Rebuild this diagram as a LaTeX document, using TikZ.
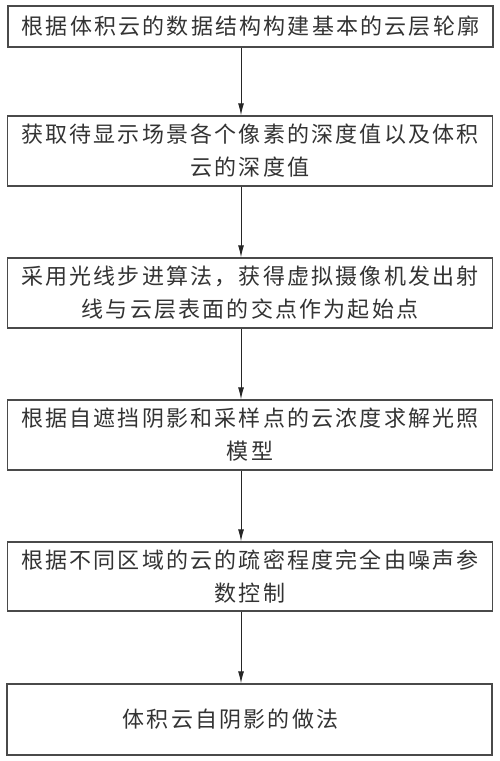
\documentclass[tikz,border=0pt]{standalone}
\usepackage{fontspec}
\usetikzlibrary{arrows.meta}
\setmainfont{Noto Sans CJK SC}[LetterSpace=10]
\definecolor{frame}{HTML}{4A4A4A}
\definecolor{ink}{HTML}{333333}
\tikzstyle{stepbox}=[rectangle,
                     minimum width=485pt,
                     minimum height=70pt,
                     inner sep=0pt,
                     draw=frame,
                     line width=1.3pt,
                     text=ink,
                     align=center,
                     font=\fontsize{22pt}{33pt}\selectfont ]
\tikzstyle{flow}=[-{Latex[length=12pt, width=6pt]}, line width=1pt, black!85]

\begin{document}
\begin{tikzpicture}[x=1pt, y=1pt]
  \useasboundingbox (0, 0) rectangle (500, -761);

  \node at (250.5, -26.5) (S1) [stepbox, minimum height=41pt] {根据体积云的数据结构构建基本的云层轮廓};
  \node at (250, -151) (S2) [stepbox] {获取待显示场景各个像素的深度值以及体积\\云的深度值};
  \node at (250, -293) (S3) [stepbox] {采用光线步进算法，获得虚拟摄像机发出射\\线与云层表面的交点作为起始点};
  \node at (250, -435) (S4) [stepbox] {根据自遮挡阴影和采样点的云浓度求解光照\\模型};
  \node at (250, -576.5) (S5) [stepbox, minimum height=69pt] {根据不同区域的云的疏密程度完全由噪声参\\数控制};
  \node at (249.5, -719.5) (S6) [stepbox, minimum height=71pt] {体积云自阴影的做法\hspace{38pt}};

  \coordinate (X) at (241, 0);
  \draw[flow] (S1.south -| X) -- (S2.north -| X);
  \draw[flow] (S2.south -| X) -- (S3.north -| X);
  \draw[flow] (S3.south -| X) -- (S4.north -| X);
  \draw[flow] (S4.south -| X) -- (S5.north -| X);
  \draw[flow] (S5.south -| X) -- (S6.north -| X);
\end{tikzpicture}
\end{document}
